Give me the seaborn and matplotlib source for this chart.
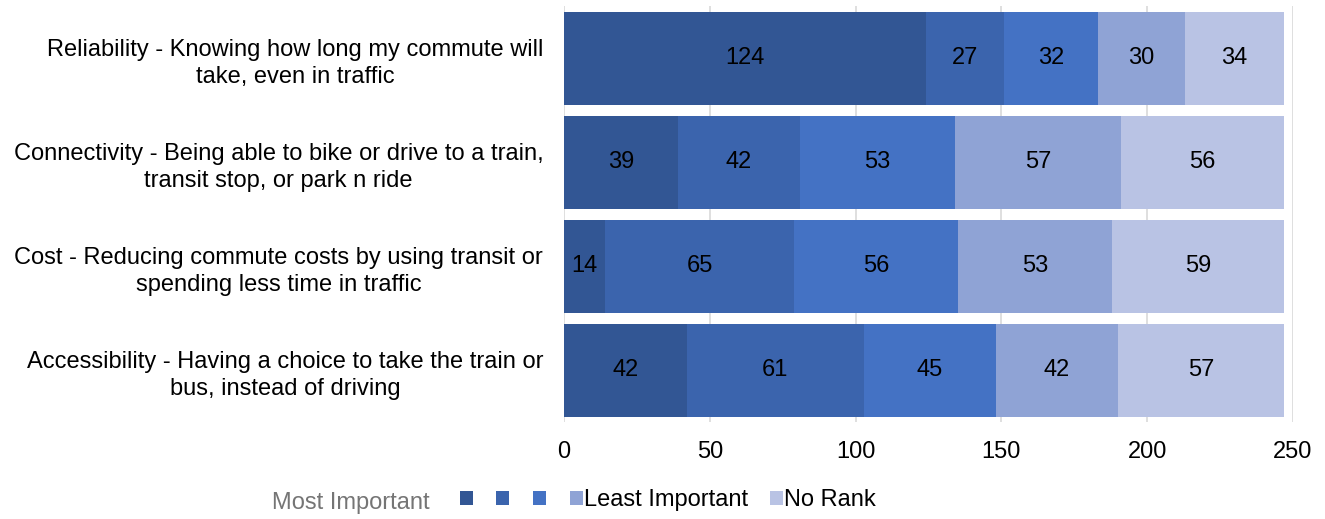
import numpy as np
import pandas as pd
import matplotlib
matplotlib.use("Agg")
import matplotlib.pyplot as plt
import seaborn as sns
from matplotlib.patches import Patch

#categories and values
questions = ["Reliability - Knowing how long my commute will\ntake, even in traffic",
             "Connectivity - Being able to bike or drive to a train,\ntransit stop, or park n ride",
             "Cost - Reducing commute costs by using transit or\nspending less time in traffic",
             "Accessibility - Having a choice to take the train or\nbus, instead of driving"]
rank1 = [124, 39, 14, 42]
rank2 = [27, 42, 65, 61]
rank3 = [32, 53, 56, 45]
rank4 = [30, 57, 53, 42]
no_rank = [34, 56, 59, 57]
legend_labels = ["", "", "", "Least Important", "No Rank"]
colors = ["#325694", "#3B64AD", "#4472C4", "#8FA3D5", "#B9C3E4"]

sns.set_style("white")
plt.rcParams["font.family"] = ["Liberation Sans", "DejaVu Sans"]
plt.rcParams["text.color"] = "black"
plt.rcParams["xtick.labelcolor"] = "black"
plt.rcParams["ytick.labelcolor"] = "black"

series = [rank1, rank2, rank3, rank4, no_rank]
df = pd.DataFrame({"q": questions})
cum = np.cumsum(np.array(series), axis=0)

fig = plt.figure(figsize=(13.25, 5.19), dpi=100)
ax = fig.add_axes([0.4257, 0.186, 0.5501, 0.8015])

#draw cumulative totals from the longest to the shortest so they stack
for i in range(len(series) - 1, -1, -1):
    df["v"] = cum[i]
    sns.barplot(data=df, x="v", y="q", color=colors[i], width=0.9,
                saturation=1, ax=ax, zorder=2, linewidth=0)

#value labels in the middle of each segment
for i in range(len(series)):
    for j in range(len(questions)):
        start = cum[i - 1][j] if i > 0 else 0
        ax.text(start + series[i][j] / 2, j, str(series[i][j]), ha="center",
                va="center", fontsize=17, color="black", zorder=3)

ax.set_xlim(0, 250)
ax.set_ylim(3.5, -0.5)
ax.set_xticks([0, 50, 100, 150, 200, 250])
ax.xaxis.grid(True, color="#D9D9D9", linewidth=1.2, zorder=0)
ax.set_axisbelow(True)
sns.despine(ax=ax, left=True, bottom=True, top=True, right=True)
ax.set_xlabel("")
ax.set_ylabel("")
ax.tick_params(axis="x", length=6, color="#D9D9D9", width=1.2, labelsize=17, pad=7,
               labelcolor="black")
ax.tick_params(axis="y", length=0, labelsize=17, pad=15, labelcolor="black")
for lab in ax.get_yticklabels():
    lab.set_multialignment("center")
    lab.set_linespacing(1.3)

#legend with the gray "Most Important" caption in front of it
handles = [Patch(facecolor=c, edgecolor="none") for c in colors]
leg = fig.legend(handles, legend_labels, ncol=5, frameon=False, loc="center left",
                 bbox_to_anchor=(0.347, 0.036), fontsize=17, handlelength=0.55,
                 handleheight=0.55, handletextpad=0.05, columnspacing=0.95,
                 borderpad=0, borderaxespad=0)
for t in leg.get_texts():
    t.set_color("black")
fig.text(0.205, 0.03, "Most Important", fontsize=17, color="#757575", va="center")

fig.savefig("out.png", dpi=100)
